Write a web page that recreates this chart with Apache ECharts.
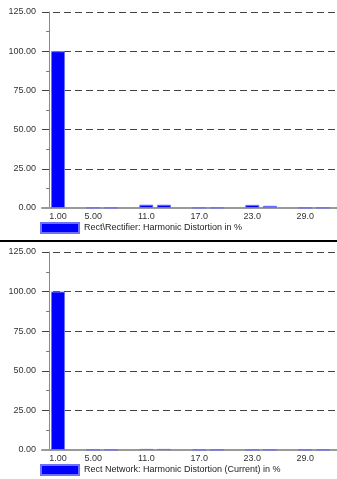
<!DOCTYPE html>
<html>
<head>
<meta charset="utf-8">
<script src="https://cdn.jsdelivr.net/npm/echarts@6/dist/echarts.min.js"></script>
<style>
  html, body { margin: 0; padding: 0; background: #fff; }
  #chart { width: 337px; height: 479px; }
</style>
</head>
<body>
<div id="chart"></div>
<script>
// Harmonic orders (x positions of the bars)
const harmonicOrders = [1, 5, 7, 11, 13, 17, 19, 23, 25, 29, 31];
// Rectifier voltage harmonic distortion, %
const rectifierValues = [100, 0.2, 0.2, 2.1, 2.1, 0.2, 0.2, 2.0, 1.4, 0.2, 0.2];
// Network current harmonic distortion, %
const networkValues = [100, 0.2, 0.2, 0.7, 0.7, 0.2, 0.2, 0.2, 0.2, 0.2, 0.2];
// Labelled orders on the x axis
const xTickValues = [1, 5, 11, 17, 23, 29];
// Y axis range
const yMin = 0, yMax = 125, yStep = 25;

const seriesNameTop = 'Rect\\Rectifier: Harmonic Distortion in %';
const seriesNameBottom = 'Rect Network: Harmonic Distortion (Current) in %';

const font = 'Liberation Sans, Arial, sans-serif';

function pairs(values) {
  return harmonicOrders.map((h, i) => [h, values[i]]);
}

function xAxisFor(gridIndex) {
  return {
    type: 'value', gridIndex: gridIndex,
    min: -0.81, max: 32.59,
    axisLine: { show: true, onZero: false, lineStyle: { color: '#9a9a9a', width: 2 } },
    axisTick: { show: false },
    splitLine: { show: false },
    axisLabel: {
      customValues: xTickValues,
      color: '#333', fontFamily: font, fontSize: 9, margin: 4,
      formatter: v => (v < 10 ? v.toFixed(2) : v.toFixed(1))
    }
  };
}

function yAxisFor(gridIndex) {
  return {
    type: 'value', gridIndex: gridIndex,
    min: yMin, max: yMax, interval: yStep,
    axisLine: { show: true, lineStyle: { color: '#8a8a8a', width: 1 } },
    axisTick: { show: false },
    minorTick: { show: true, splitNumber: 2, length: 3, lineStyle: { color: '#777' } },
    splitLine: { show: true, lineStyle: { color: '#444', type: [7, 4], width: 1 } },
    axisLabel: { color: '#333', fontFamily: font, fontSize: 9, margin: 6,
      formatter: v => v.toFixed(2) }
  };
}

function barSeries(name, values, idx) {
  return {
    name: name, type: 'bar',
    xAxisIndex: idx, yAxisIndex: idx,
    barWidth: 14,
    data: pairs(values),
    itemStyle: { color: '#0000ff', borderColor: '#7070ff', borderWidth: 1 },
    emphasis: { disabled: true }
  };
}

const chart = echarts.init(document.getElementById('chart'), null, { renderer: 'canvas' });
chart.setOption({
  animation: false,
  backgroundColor: '#ffffff',
  grid: [
    { left: 42, top: 12, right: 0, height: 196 },
    { left: 42, top: 252, right: 0, height: 198 }
  ],
  xAxis: [xAxisFor(0), xAxisFor(1)],
  yAxis: [yAxisFor(0), yAxisFor(1)],
  legend: [
    { data: [seriesNameTop], left: 40, top: 222, itemWidth: 38, itemHeight: 10, icon: 'rect',
      itemGap: 0, padding: 0, textStyle: { fontFamily: font, fontSize: 9, color: '#222' } },
    { data: [seriesNameBottom], left: 40, top: 464, itemWidth: 38, itemHeight: 10, icon: 'rect',
      itemGap: 0, padding: 0, textStyle: { fontFamily: font, fontSize: 9, color: '#222' } }
  ],
  graphic: [
    { type: 'line', shape: { x1: 0, y1: 241, x2: 337, y2: 241 },
      style: { stroke: '#000', lineWidth: 2 } }
  ],
  series: [
    barSeries(seriesNameTop, rectifierValues, 0),
    barSeries(seriesNameBottom, networkValues, 1)
  ]
});
</script>
</body>
</html>
